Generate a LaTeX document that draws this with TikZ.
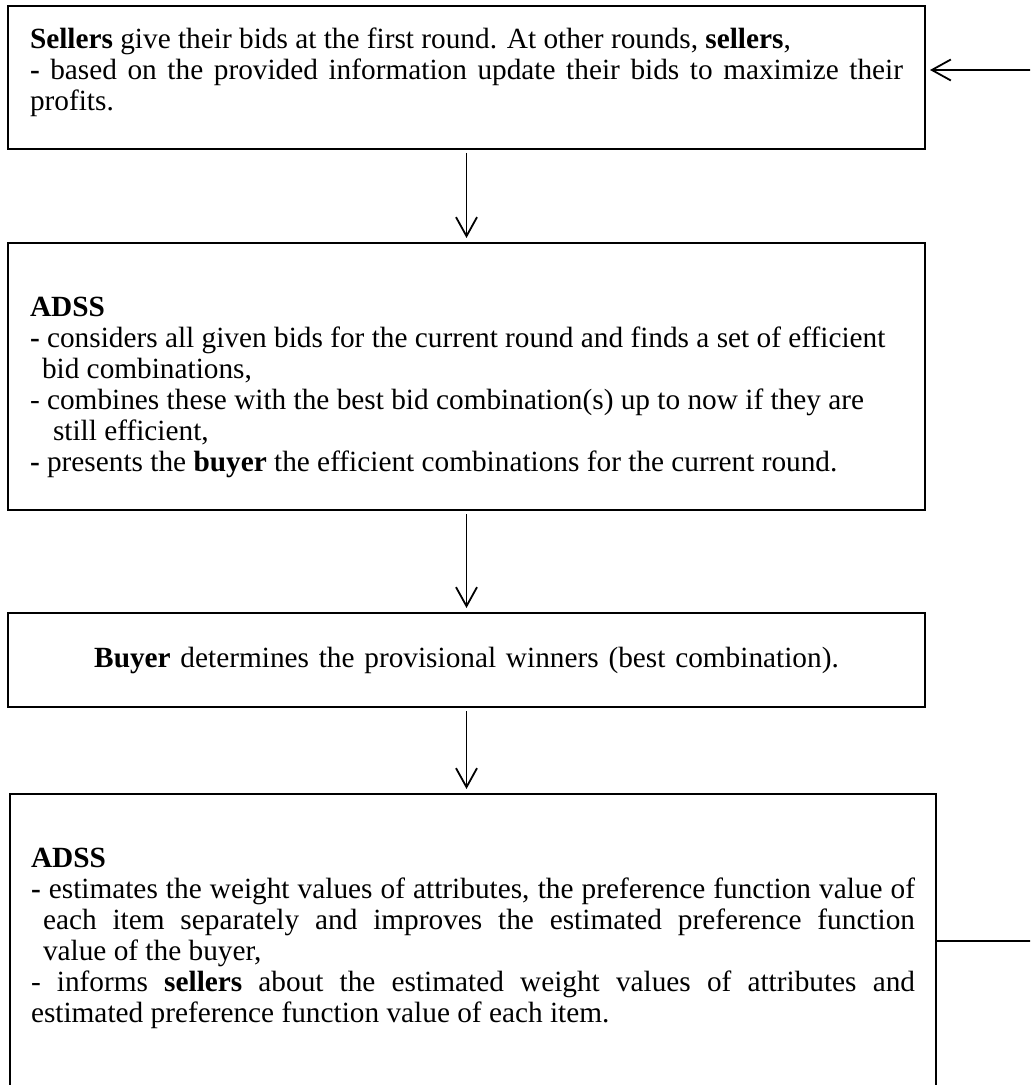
\documentclass[tikz,border=0pt]{standalone}
\usepackage{fontspec}
\setmainfont{Liberation Serif}
\usetikzlibrary{arrows.meta,calc,positioning}

\newcommand{\stagebody}[3]{\parbox[c][#1][t]{#2}{\vspace*{10.5pt}\strut#3}}

\begin{document}
\begin{tikzpicture}[
  x=0.5pt,y=-0.5pt,font=\fontsize{14.65}{15.5}\selectfont,
  stage/.style={draw=black,line width=1pt,inner xsep=11pt,inner ysep=0pt,outer sep=0pt},
  flow/.style={-{Straight Barb[length=9.5pt,width=10.5pt]},line width=0.9pt,shorten <=2pt,shorten >=2.5pt},
  loopline/.style={line width=0.9pt}
]
\useasboundingbox (0,0) rectangle (1030,1085);
\clip (0,0) rectangle (1030,1085);

% Sellers.
\node[stage] (sellers) at (466.5,77.5) {\stagebody{71.5pt}{436.5pt}{%
  \textbf{Sellers} give their bids at the first round. At other rounds, \textbf{sellers},\\
  \textbf{-} based on the provided information update their bids to maximize their\linebreak profits.}};

% ADSS, efficient combinations.
\node[stage] (combine) at (466.5,376.5) {\stagebody{133.5pt}{436.5pt}{\raggedright\\
  \textbf{ADSS}\\
  \textbf{-} considers all given bids for the current round and finds a set of efficient\\
  \hspace*{6pt}bid combinations,\\
  - combines these with the best bid combination(s) up to now if they are\\
  \hspace*{11.5pt}still efficient,\\
  \textbf{-} presents the \textbf{buyer} the efficient combinations for the current round.}};

% Buyer.
\node[stage,text width=436.5pt,align=center,minimum height=47pt] (buyer) at (466.5,660)
  {\textbf{Buyer} determines the provisional winners (best combination).};

% ADSS, estimation.
\node[stage,inner xsep=10.5pt] (estimate) at (473,947) {\stagebody{153pt}{442pt}{\par
  \textbf{ADSS}\par
  \hangindent=6pt\hangafter=1
  \textbf{-} estimates the weight values of attributes, the preference function value of\linebreak
  each item separately and improves the estimated preference function\linebreak
  value of the buyer,\par
  - informs \textbf{sellers} about the estimated weight values of attributes and\linebreak
  estimated preference function value of each item.}};

\draw[flow] (sellers) -- (combine);
\draw[flow] (combine) -- (buyer);
\draw[flow] (buyer.south) -- (buyer.south |- estimate.north);

% Feedback to the sellers.
\coordinate (fbout) at (1034,941);
\coordinate (fbin) at (1034,70);
\draw[loopline] (fbout -| estimate.east) -- (fbout) -- (fbin);
\draw[flow,shorten <=0pt] (fbin) -- (fbin -| sellers.east);
\end{tikzpicture}
\end{document}
